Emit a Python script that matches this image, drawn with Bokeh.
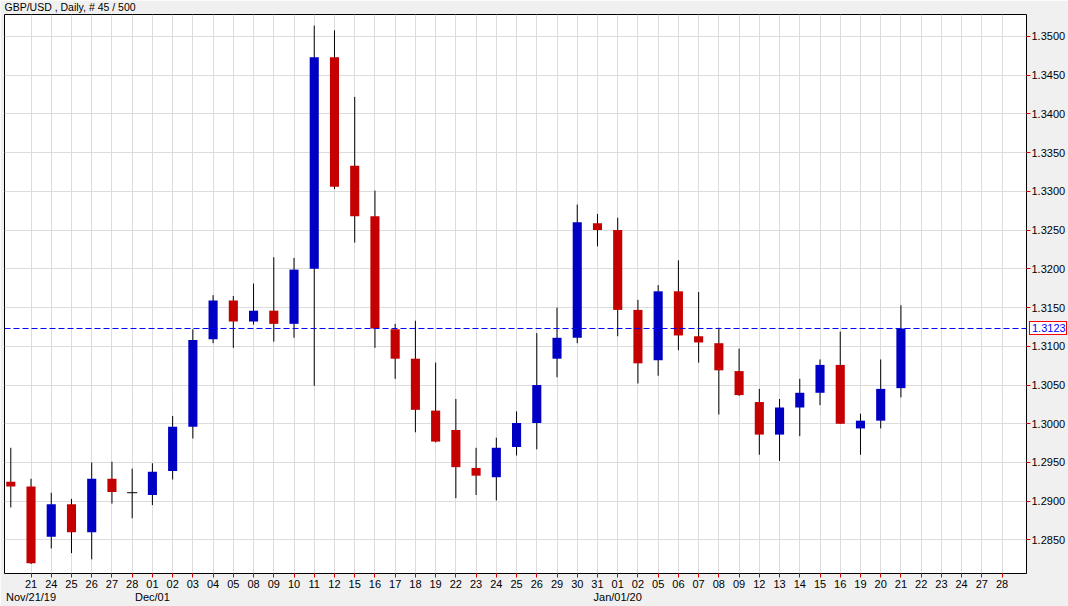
from bokeh.plotting import figure
from bokeh.models import (Range1d, FixedTicker, Span, ColumnDataSource, LinearAxis, Title,
                          Legend, LegendItem)
from bokeh.embed import file_html
from bokeh.resources import INLINE

title_text = "GBP/USD , Daily, # 45 / 500"

day_labels = ["21", "24", "25", "26", "27", "28",
              "01", "02", "03", "04", "05", "08", "09", "10", "11", "12", "15", "16", "17",
              "18", "19", "22", "23", "24", "25", "26", "29", "30", "31",
              "01", "02", "05", "06", "07", "08", "09", "12", "13", "14", "15", "16", "19",
              "20", "21", "22", "23", "24", "27", "28"]
month_labels = ["Nov/21/19", "Dec/01", "Jan/01/20"]
month_slots = [1, 7, 30]

opens = [1.2925, 1.2919, 1.2854, 1.2896, 1.2860, 1.2929, 1.2911, 1.2908, 1.2939, 1.2996,
         1.3109, 1.3159, 1.3132, 1.3146, 1.3129, 1.3200, 1.3473, 1.3333, 1.3268, 1.3122,
         1.3084, 1.3017, 1.2992, 1.2943, 1.2931, 1.2970, 1.3001, 1.3084, 1.3111, 1.3259,
         1.3250, 1.3147, 1.3082, 1.3171, 1.3113, 1.3104, 1.3068, 1.3028, 1.2986, 1.3021,
         1.3040, 1.3076, 1.2994, 1.3004, 1.3046]
highs = [1.2969, 1.2929, 1.2911, 1.2903, 1.2950, 1.2951, 1.2942, 1.2949, 1.3010, 1.3122,
         1.3166, 1.3165, 1.3181, 1.3215, 1.3214, 1.3514, 1.3508, 1.3422, 1.3301, 1.3129,
         1.3133, 1.3079, 1.3032, 1.2969, 1.2982, 1.3016, 1.3117, 1.3150, 1.3283, 1.3271,
         1.3266, 1.3160, 1.3179, 1.3211, 1.3170, 1.3124, 1.3097, 1.3045, 1.3032, 1.3058,
         1.3083, 1.3119, 1.3013, 1.3083, 1.3153]
lows = [1.2892, 1.2819, 1.2839, 1.2833, 1.2825, 1.2897, 1.2878, 1.2895, 1.2928, 1.2981,
        1.3104, 1.3098, 1.3128, 1.3106, 1.3111, 1.3049, 1.3303, 1.3234, 1.3098, 1.3058,
        1.2989, 1.2976, 1.2904, 1.2908, 1.2901, 1.2959, 1.2967, 1.3060, 1.3104, 1.3229,
        1.3113, 1.3052, 1.3062, 1.3095, 1.3079, 1.3012, 1.3036, 1.2960, 1.2952, 1.2984,
        1.3024, 1.3000, 1.2960, 1.2994, 1.3034]
closes = [1.2919, 1.2820, 1.2896, 1.2860, 1.2929, 1.2912, 1.2911, 1.2938, 1.2996, 1.3108,
          1.3159, 1.3132, 1.3146, 1.3129, 1.3199, 1.3473, 1.3306, 1.3268, 1.3123, 1.3084,
          1.3018, 1.2977, 1.2944, 1.2933, 1.2969, 1.3001, 1.3050, 1.3111, 1.3260, 1.3250,
          1.3147, 1.3078, 1.3171, 1.3114, 1.3105, 1.3069, 1.3037, 1.2986, 1.3021, 1.3040,
          1.3076, 1.3000, 1.3004, 1.3045, 1.3123]

y_tick_values = [1.2850, 1.2900, 1.2950, 1.3000, 1.3050, 1.3100, 1.3150,
                 1.3200, 1.3250, 1.3300, 1.3350, 1.3400, 1.3450, 1.3500]
y_tick_labels = ["1.2850", "1.2900", "1.2950", "1.3000", "1.3050", "1.3100", "1.3150",
                 "1.3200", "1.3250", "1.3300", "1.3350", "1.3400", "1.3450", "1.3500"]
last_price = 1.3123
last_price_label = "1.3123"

FONT = "Liberation Sans"
UP = "#0000C4"
DOWN = "#C40000"

slots = list(range(len(opens)))
up_src = ColumnDataSource(dict(
    x=[i for i in slots if closes[i] > opens[i]],
    top=[closes[i] for i in slots if closes[i] > opens[i]],
    bottom=[opens[i] for i in slots if closes[i] > opens[i]]))
dn_src = ColumnDataSource(dict(
    x=[i for i in slots if closes[i] < opens[i]],
    top=[opens[i] for i in slots if closes[i] < opens[i]],
    bottom=[closes[i] for i in slots if closes[i] < opens[i]]))
doji = [i for i in slots if closes[i] == opens[i]]

p = figure(width=1068, height=606, output_backend="svg", toolbar_location=None,
           x_range=Range1d(-0.311, 50.207), y_range=Range1d(1.28067, 1.352835),
           y_axis_location="right",
           min_border_left=4, min_border_right=41, min_border_top=13, min_border_bottom=33)
p.background_fill_color = "white"
p.border_fill_color = "#F0F0F0"
p.outline_line_color = "black"
p.outline_line_width = 1
p.outline_line_alpha = 1

p.add_layout(Title(text=title_text, align="left", text_font=FONT, text_font_size="10.5px",
                   text_font_style="normal", text_color="black", standoff=0, offset=0,
                   vertical_align="top"),
             "above")

xa = p.xaxis[0]
xa.ticker = FixedTicker(ticks=list(range(1, len(day_labels) + 1)))
xa.major_label_overrides = {i + 1: lab for i, lab in enumerate(day_labels)}
ya = p.yaxis[0]
ya.ticker = FixedTicker(ticks=y_tick_values)
ya.major_label_overrides = {v: lab for v, lab in zip(y_tick_values, y_tick_labels)}
for ax in (xa, ya):
    ax.axis_line_color = None
    ax.major_tick_line_color = "#E00000"
    ax.major_tick_out = 4
    ax.major_tick_in = 0
    ax.minor_tick_line_color = None
    ax.major_label_text_font = FONT
    ax.major_label_text_font_size = "11px"
    ax.major_label_text_color = "black"
xa.major_label_standoff = 2
ya.major_label_standoff = 1

mx = LinearAxis(ticker=FixedTicker(ticks=month_slots),
                major_label_overrides={s: lab for s, lab in zip(month_slots, month_labels)},
                axis_line_color=None, major_tick_line_color=None, minor_tick_line_color=None,
                major_tick_out=0, major_tick_in=0, major_label_standoff=0,
                major_label_text_font=FONT, major_label_text_font_size="11px",
                major_label_text_color="black")
p.add_layout(mx, "below")

p.xgrid.grid_line_color = "#DCDCDC"
p.ygrid.grid_line_color = "#DCDCDC"

p.segment(x0=slots, y0=lows, x1=slots, y1=highs, line_color="black", line_width=1)
p.vbar(x="x", top="top", bottom="bottom", width=0.45, fill_color=UP, line_color=None, source=up_src)
p.vbar(x="x", top="top", bottom="bottom", width=0.45, fill_color=DOWN, line_color=None, source=dn_src)
if doji:
    p.segment(x0=[i - 0.25 for i in doji], y0=[opens[i] for i in doji],
              x1=[i + 0.25 for i in doji], y1=[opens[i] for i in doji],
              line_color="black", line_width=1)

p.add_layout(Span(location=last_price, dimension="width", line_color="#0000FF",
                  line_width=1, line_dash="6 3"))

# last-price tag: a one-item legend in the (empty) left border panel, moved onto the price scale
tag_r = p.line(x=[], y=[], line_alpha=0)
tag = Legend(items=[LegendItem(label=last_price_label, renderers=[tag_r])],
             location=(1029, 238), orientation="vertical",
             glyph_width=0, glyph_height=10, label_height=10, label_width=34,
             label_standoff=2, padding=0, spacing=0, margin=-267,
             label_text_font=FONT, label_text_font_size="11px", label_text_color="#0000FF",
             border_line_color="#FF0000", border_line_width=1, border_line_alpha=1,
             background_fill_color="white", background_fill_alpha=1)
p.add_layout(tag, "left")

open("out.html", "w").write(file_html(p, INLINE))
